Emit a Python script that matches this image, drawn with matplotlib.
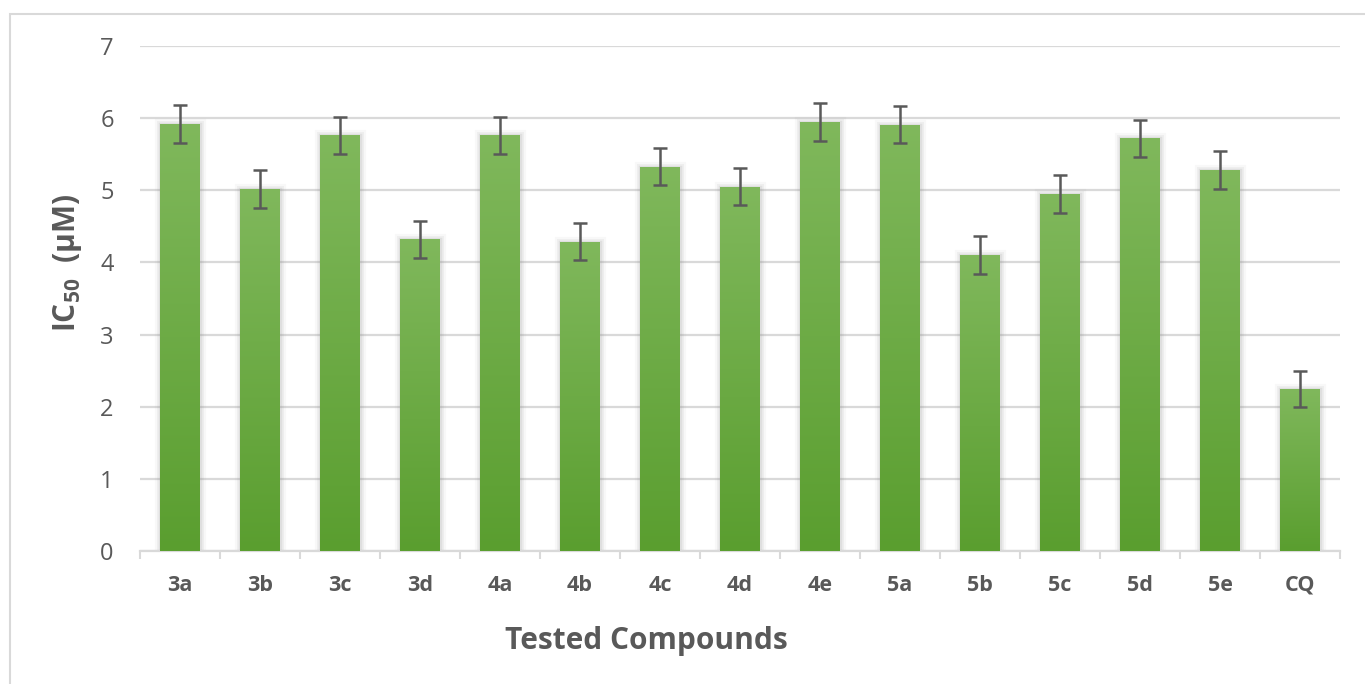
import numpy as np
import matplotlib.pyplot as plt
from matplotlib.patches import Rectangle
from matplotlib.colors import LinearSegmentedColormap

plt.rcParams['font.family'] = ['Open Sans', 'DejaVu Sans']
plt.rcParams['mathtext.fontset'] = 'custom'
plt.rcParams['mathtext.rm'] = 'Open Sans:bold'
plt.rcParams['mathtext.default'] = 'rm'

# data
compounds = ['3a', '3b', '3c', '3d', '4a', '4b', '4c', '4d', '4e',
             '5a', '5b', '5c', '5d', '5e', 'CQ']
ic50 = [5.92, 5.02, 5.76, 4.32, 5.76, 4.29, 5.33, 5.05, 5.95,
        5.91, 4.10, 4.95, 5.72, 5.28, 2.24]
err = [0.26, 0.26, 0.26, 0.26, 0.26, 0.26, 0.26, 0.26, 0.26,
       0.26, 0.26, 0.26, 0.26, 0.26, 0.25]

fig = plt.figure(figsize=(13.65, 6.84), dpi=100)
# light frame around the chart (runs off the right/bottom edge)
fig.patches.append(Rectangle((0.0073, -0.1), 1.2, 1.0795, transform=fig.transFigure,
                             fill=False, ec='#d9d9d9', lw=1.5))
ax = fig.add_axes([0.1026, 0.1944, 0.8791, 0.7383])

x = np.arange(len(compounds))
bars = ax.bar(x, ic50, width=0.5, color='none', zorder=3)

# vertical gradient fill, lighter on top, plus soft side shadow
grad = np.linspace(0, 1, 256).reshape(-1, 1)
cmap = LinearSegmentedColormap.from_list('g', ['#5a9e2f', '#80b85c'])
for b in bars:
    x0, h, w = b.get_x(), b.get_height(), b.get_width()
    im = ax.imshow(grad, extent=[x0, x0 + w, 0, h], origin='lower', cmap=cmap,
                   aspect='auto', zorder=3)
    im.set_clip_path(b)
    for lw, a in [(8, 0.06), (5, 0.09), (2.5, 0.14)]:
        ax.add_patch(Rectangle((x0, 0.04), w, h - 0.04, fc='none', ec='#8a8a8a', lw=lw,
                               alpha=a, zorder=2.5))

ax.errorbar(x, ic50, yerr=err, fmt='none', ecolor='#595959', elinewidth=1.8,
            capsize=4.8, capthick=1.8, zorder=4)

ax.set_xlim(-0.5, len(compounds) - 0.5)
ax.set_ylim(0, 7)
ax.set_yticks(range(8))
ax.tick_params(axis='y', length=0, labelsize=17, labelcolor='#595959', pad=19)
ax.set_xticks(x)
ax.set_xticklabels(compounds, fontsize=15.5, fontweight='bold', color='#595959')
ax.tick_params(axis='x', length=0, pad=17)
ax.set_xticks(np.arange(len(compounds) + 1) - 0.5, minor=True)
ax.tick_params(axis='x', which='minor', length=6, color='#d9d9d9', width=1.5)

ax.grid(axis='y', color='#d9d9d9', lw=1.6, zorder=0)
ax.set_axisbelow(True)
for s in ['top', 'right', 'left']:
    ax.spines[s].set_visible(False)
ax.spines['bottom'].set_color('#d9d9d9')
ax.spines['bottom'].set_linewidth(1.6)

# axis titles sit off-centre in the reference, so place them directly
fig.text(646 / 1365, 1 - 641 / 684, 'Tested Compounds', fontsize=21.5, fontweight='bold',
         color='#595959', ha='center', va='center')
fig.text(67 / 1365, 1 - 263 / 684, r'IC$_{50}$  (μM)', fontsize=21.5, fontweight='bold',
         color='#595959', ha='center', va='center', rotation=90)

fig.savefig('out.png', dpi=100)
